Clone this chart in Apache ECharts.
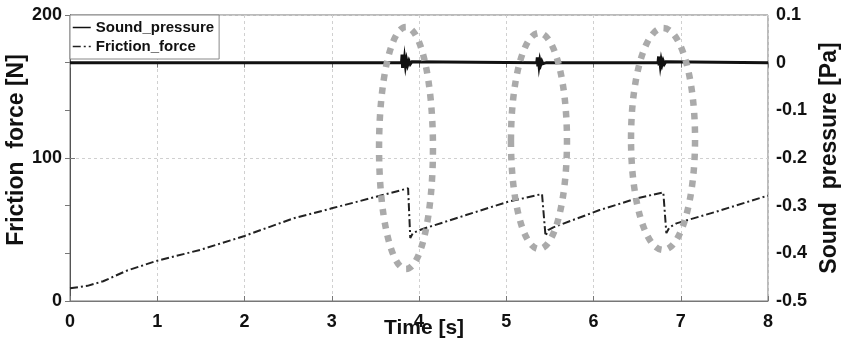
<!DOCTYPE html>
<html>
<head>
<meta charset="utf-8">
<script src="https://cdn.jsdelivr.net/npm/echarts@6/dist/echarts.min.js"></script>
<style>
  html, body { margin: 0; padding: 0; background: #fff; }
  #chart { width: 846px; height: 347px; }
</style>
</head>
<body>
<div id="chart"></div>
<script>
// Friction force [N] versus time [s]: stick-slip ramp with three sudden drops
const frictionForce = [
  [0, 8.9], [0.2, 10.6], [0.38, 13.8], [0.65, 21.2], [1.0, 28.2], [1.49, 35.7], [2.0, 45.5],
  [2.56, 57.8], [3.0, 64.8], [3.51, 72.9], [3.875, 78.8], [3.90, 44.0], [3.93, 47.5],
  [4.01, 49.7], [4.54, 60.1], [5.02, 69.4], [5.41, 74.8], [5.45, 45.5], [5.48, 49.5],
  [5.54, 51.5], [6.07, 63.6], [6.5, 71.8], [6.80, 76.0], [6.835, 47.5], [6.87, 51.5],
  [6.95, 54.3], [7.41, 62.5], [7.98, 73.4], [8.0, 73.6]
];

// Sound pressure [Pa]: flat signal with a short decaying burst at each slip
const soundPressure = [
  [0, 0], [3.80, 0],
  [3.806, 0.017], [3.812, -0.011], [3.818, 0.012], [3.826, -0.009], [3.835, 0.008],
  [3.845, -0.007], [3.857, 0.006], [3.870, -0.005], [3.885, 0.004], [3.900, -0.003],
  [3.920, 0.002], [3.940, 0],
  [5.35, 0],
  [5.356, 0.011], [5.362, -0.008], [5.368, 0.009], [5.376, -0.006], [5.385, 0.005],
  [5.396, -0.004], [5.408, 0.003], [5.420, -0.002], [5.440, 0.001], [5.460, 0],
  [6.74, 0],
  [6.746, 0.013], [6.752, -0.006], [6.758, 0.009], [6.766, -0.005], [6.775, 0.006],
  [6.786, -0.004], [6.798, 0.004], [6.812, -0.003], [6.830, 0.002], [6.850, 0],
  [8.0, 0]
];

// Highlighted slip events: centre [t, N] and radii [s, N] on the friction axes
const slipMarks = [
  { centre: [3.851, 107.0], radius: [0.309, 84.6] },
  { centre: [5.375, 111.9], radius: [0.321, 75.5] },
  { centre: [6.797, 113.3], radius: [0.367, 77.6] }
];

const timeTicks = { min: 0, max: 8, interval: 1 };
const forceTicks = { min: 0, max: 200, interval: 100 };
const pressureTicks = { min: -0.5, max: 0.1, interval: 0.1 };

const FONT = '"Liberation Sans", Arial, sans-serif';
const AXIS_GRAY = '#777';
const labelStyle = { color: '#111', fontWeight: 'bold', fontSize: 18, fontFamily: FONT };
const nameStyle = { color: '#111', fontWeight: 'bold', fontSize: 23, fontFamily: FONT };

const chart = echarts.init(document.getElementById('chart'), null, { renderer: 'canvas' });

chart.setOption({
  animation: false,
  backgroundColor: '#fff',
  grid: {
    left: 70, right: 78, top: 15, bottom: 46,
    containLabel: false, outerBoundsMode: 'none',
    show: true, borderColor: AXIS_GRAY, borderWidth: 1
  },
  legend: {
    show: true,
    left: 70, top: 15,
    orient: 'vertical',
    backgroundColor: '#fff',
    borderColor: '#888', borderWidth: 1, borderRadius: 0,
    padding: [5, 5, 5, 2],
    itemWidth: 18, itemHeight: 14, itemGap: 4,
    itemStyle: { opacity: 0 },
    lineStyle: { width: 1.5, opacity: 1 },
    textStyle: { color: '#111', fontWeight: 'bold', fontSize: 15, fontFamily: FONT },
    data: ['Sound_pressure', 'Friction_force']
  },
  xAxis: [
    {
      type: 'value', position: 'bottom',
      min: timeTicks.min, max: timeTicks.max, interval: timeTicks.interval,
      name: 'Time [s]', nameLocation: 'middle', nameGap: 17, nameMoveOverlap: false,
      nameTextStyle: Object.assign({}, nameStyle, { fontSize: 21, padding: [0, 0, 0, 10] }),
      axisLine: { show: true, lineStyle: { color: AXIS_GRAY, width: 1 } },
      axisTick: { show: true, inside: true, length: 5, lineStyle: { color: AXIS_GRAY } },
      axisLabel: Object.assign({ margin: 12 }, labelStyle),
      splitLine: { show: true, lineStyle: { color: '#d0d0d0', type: [3, 3], width: 1 } }
    },
    {
      type: 'value', position: 'top',
      min: timeTicks.min, max: timeTicks.max, interval: timeTicks.interval,
      axisLine: { show: true, lineStyle: { color: AXIS_GRAY, width: 1 } },
      axisTick: { show: true, inside: true, length: 5, lineStyle: { color: AXIS_GRAY } },
      axisLabel: { show: false },
      splitLine: { show: false }
    }
  ],
  yAxis: [
    {
      type: 'value', position: 'left',
      min: forceTicks.min, max: forceTicks.max, interval: forceTicks.interval,
      name: 'Friction  force [N]', nameLocation: 'middle', nameGap: 42, nameRotate: 90,
      nameMoveOverlap: false,
      nameTextStyle: Object.assign({}, nameStyle, { padding: [0, 0, 0, 16] }),
      axisLine: { show: true, lineStyle: { color: '#555', width: 1 } },
      axisTick: { show: true, inside: true, length: 5, lineStyle: { color: AXIS_GRAY } },
      axisLabel: Object.assign({ margin: 8 }, labelStyle),
      splitLine: { show: true, lineStyle: { color: '#d0d0d0', type: [3, 3], width: 1 } }
    },
    {
      type: 'value', position: 'right',
      min: pressureTicks.min, max: pressureTicks.max, interval: pressureTicks.interval,
      name: 'Sound  pressure [Pa]', nameLocation: 'middle', nameGap: 50, nameRotate: 90,
      nameMoveOverlap: false,
      nameTextStyle: nameStyle,
      axisLine: { show: true, lineStyle: { color: '#555', width: 1 } },
      axisTick: { show: true, inside: true, length: 5, lineStyle: { color: AXIS_GRAY } },
      axisLabel: Object.assign({
        margin: 8,
        formatter: v => {
          const r = Math.round(v * 10) / 10;
          return r === 0 ? '0' : r.toFixed(1);
        }
      }, labelStyle),
      splitLine: { show: false }
    }
  ],
  series: [
    {
      name: 'Sound_pressure', type: 'line', yAxisIndex: 1,
      data: soundPressure, symbol: 'none', z: 3,
      lineStyle: { color: '#111', width: 3, join: 'miter' },
      itemStyle: { color: '#111' }
    },
    {
      name: 'Friction_force', type: 'line', yAxisIndex: 0,
      data: frictionForce, symbol: 'none', z: 2,
      lineStyle: { color: '#222', width: 2, type: [8, 3, 2, 3] },
      itemStyle: { color: '#222' }
    }
  ]
});

// Dotted gray rings around each slip event, placed through the axis scales
function drawSlipMarks() {
  const graphics = slipMarks.map(m => {
    const c = chart.convertToPixel({ xAxisIndex: 0, yAxisIndex: 0 }, m.centre);
    const e = chart.convertToPixel({ xAxisIndex: 0, yAxisIndex: 0 },
      [m.centre[0] + m.radius[0], m.centre[1] + m.radius[1]]);
    return {
      type: 'ellipse', z: 100, silent: true,
      shape: { cx: c[0], cy: c[1], rx: Math.abs(e[0] - c[0]), ry: Math.abs(c[1] - e[1]) },
      style: { fill: 'none', stroke: '#aaaaaa', lineWidth: 6.5, lineDash: [6.5, 7], lineCap: 'butt' }
    };
  });
  chart.setOption({ graphic: graphics });
}
drawSlipMarks();
</script>
</body>
</html>
